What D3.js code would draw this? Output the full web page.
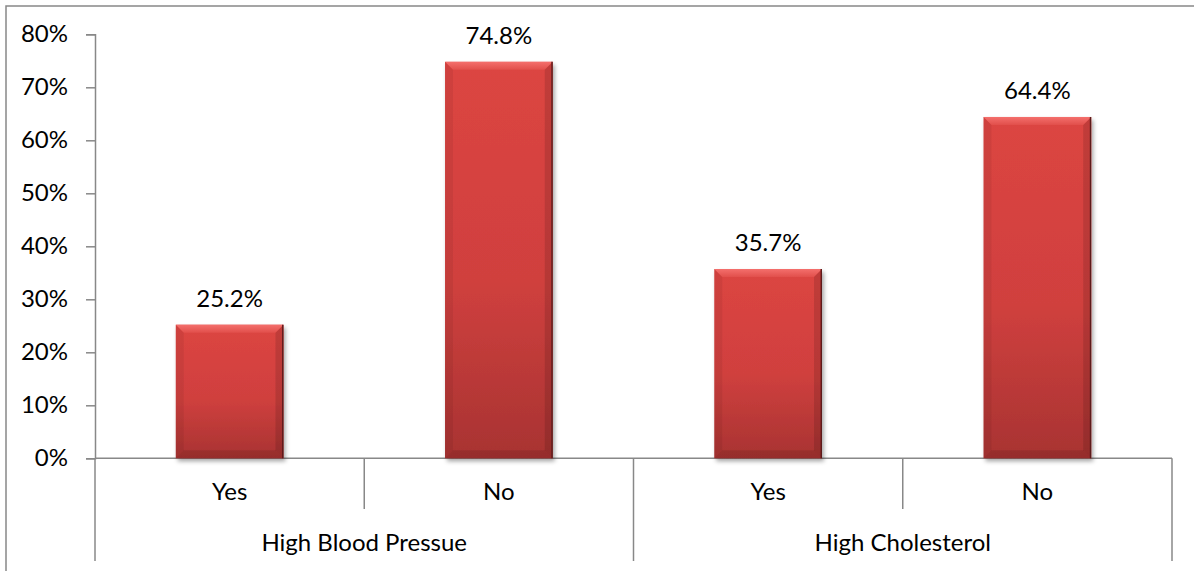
<!DOCTYPE html>
<html>
<head>
<meta charset="utf-8">
<script src="https://cdn.jsdelivr.net/npm/d3@7/dist/d3.min.js"></script>
<style>
  html, body { margin: 0; padding: 0; background: #fff; overflow: hidden; }
  svg { display: block; }
  text { font-family: Lato, "Open Sans", sans-serif; fill: #000; }
</style>
</head>
<body>
<svg id="chart" width="1194" height="571"></svg>
<script>
// ---- data ----
const groups = ["High Blood Pressue", "High Cholesterol"];
const answers = ["Yes", "No", "Yes", "No"];
const groupOf = [0, 0, 1, 1];
const values = [25.2, 74.8, 35.7, 64.4];
const yTicks = [0, 10, 20, 30, 40, 50, 60, 70, 80];

// ---- layout ----
const W = 1194, H = 571;
const plotLeft = 95, plotRight = 1172, plotTop = 34.3, plotBottom = 458.3;
const fontSize = 24;
const axisColor = "#888888";

const svg = d3.select("#chart");

// defs
const defs = svg.append("defs");
const g1 = defs.append("linearGradient").attr("id", "barGrad").attr("x1", 0).attr("y1", 0).attr("x2", 0).attr("y2", 1);
g1.append("stop").attr("offset", "0%").attr("stop-color", "#dc4542");
g1.append("stop").attr("offset", "55%").attr("stop-color", "#d0403e");
g1.append("stop").attr("offset", "100%").attr("stop-color", "#a83332");
const g2 = defs.append("linearGradient").attr("id", "topBevel").attr("x1", 0).attr("y1", 0).attr("x2", 0).attr("y2", 1);
g2.append("stop").attr("offset", "0%").attr("stop-color", "#f46f6c");
g2.append("stop").attr("offset", "100%").attr("stop-color", "#e14f4b");
const f = defs.append("filter").attr("id", "shadow").attr("x", "-20%").attr("y", "-20%").attr("width", "140%").attr("height", "140%");
f.append("feDropShadow").attr("dx", 2).attr("dy", 3).attr("stdDeviation", 2.2).attr("flood-color", "#000").attr("flood-opacity", 0.35);

// outer chart border (extends beyond the viewport on right & bottom)
svg.append("rect")
  .attr("x", 6).attr("y", 6).attr("width", W + 20).attr("height", H + 20)
  .attr("fill", "none").attr("stroke", axisColor).attr("stroke-width", 1.5);

// scales
const x = d3.scaleBand().domain(d3.range(values.length)).range([plotLeft, plotRight])
  .paddingInner(0.6).paddingOuter(0.3);
const xCat = d3.scaleBand().domain(d3.range(values.length)).range([plotLeft, plotRight]).padding(0);
const xGroup = d3.scaleBand().domain(d3.range(groups.length)).range([plotLeft, plotRight]).padding(0);
const y = d3.scaleLinear().domain([0, 80]).range([plotBottom, plotTop]);

// y axis
const yAxis = d3.axisLeft(y).tickValues(yTicks).tickFormat(d => d + "%").tickSize(9).tickPadding(18);
const yg = svg.append("g").attr("transform", `translate(${plotLeft},0)`).call(yAxis);
yg.select(".domain").attr("stroke", axisColor).attr("stroke-width", 1.5);
yg.selectAll(".tick line").attr("stroke", axisColor).attr("stroke-width", 1.5);
yg.selectAll(".tick text").attr("font-size", fontSize).attr("font-family", "Lato, 'Open Sans', sans-serif").attr("fill", "#000");

// x axis line
svg.append("line").attr("x1", plotLeft).attr("x2", plotRight).attr("y1", y(0)).attr("y2", y(0))
  .attr("stroke", axisColor).attr("stroke-width", 1.5);

// category dividers
const innerBottom = 509, outerBottom = 561;
const boundaries = d3.range(values.length + 1).map(i => i < values.length ? xCat(i) : plotRight);
boundaries.forEach((bx, i) => {
  const isGroupEdge = (i === 0 || i === values.length || groupOf[i] !== groupOf[i - 1]);
  svg.append("line").attr("x1", bx).attr("x2", bx).attr("y1", y(0)).attr("y2", isGroupEdge ? outerBottom : innerBottom)
    .attr("stroke", axisColor).attr("stroke-width", 1.5);
});

// bars
const b = 8;
const bars = svg.append("g").selectAll("g.bar").data(values).join("g").attr("class", "bar");
bars.each(function(v, i) {
  const gg = d3.select(this);
  const x0 = x(i), w = x.bandwidth(), y0 = y(v), h = y(0) - y(v);
  gg.append("rect").attr("x", x0).attr("y", y0).attr("width", w).attr("height", h)
    .attr("fill", "url(#barGrad)").attr("filter", "url(#shadow)");
  // top bevel
  gg.append("polygon").attr("points", [[x0, y0], [x0 + w, y0], [x0 + w - b, y0 + b], [x0 + b, y0 + b]].join(" "))
    .attr("fill", "url(#topBevel)");
  // left bevel
  gg.append("polygon").attr("points", [[x0, y0], [x0 + b, y0 + b], [x0 + b, y0 + h - b], [x0, y0 + h]].join(" "))
    .attr("fill", "#000").attr("fill-opacity", 0.06);
  // right bevel
  gg.append("polygon").attr("points", [[x0 + w, y0], [x0 + w - b, y0 + b], [x0 + w - b, y0 + h - b], [x0 + w, y0 + h]].join(" "))
    .attr("fill", "#000").attr("fill-opacity", 0.12);
  // bottom bevel
  gg.append("polygon").attr("points", [[x0, y0 + h], [x0 + b, y0 + h - b], [x0 + w - b, y0 + h - b], [x0 + w, y0 + h]].join(" "))
    .attr("fill", "#000").attr("fill-opacity", 0.1);
  // dark right edge
  gg.append("line").attr("x1", x0 + w - 0.7).attr("x2", x0 + w - 0.7).attr("y1", y0).attr("y2", y0 + h)
    .attr("stroke", "#5c1b1b").attr("stroke-width", 1.4);
  // value label
  gg.append("text").attr("x", x0 + w / 2).attr("y", y0 - 18).attr("text-anchor", "middle")
    .attr("font-size", fontSize).text(v.toFixed(1) + "%");
});

// category labels
svg.append("g").selectAll("text").data(answers).join("text")
  .attr("x", (d, i) => xCat(i) + xCat.bandwidth() / 2).attr("y", 500)
  .attr("text-anchor", "middle").attr("font-size", fontSize).text(d => d);

// group labels
svg.append("g").selectAll("text").data(groups).join("text")
  .attr("x", (d, i) => xGroup(i) + xGroup.bandwidth() / 2).attr("y", 551)
  .attr("text-anchor", "middle").attr("font-size", fontSize).text(d => d);
</script>
</body>
</html>
